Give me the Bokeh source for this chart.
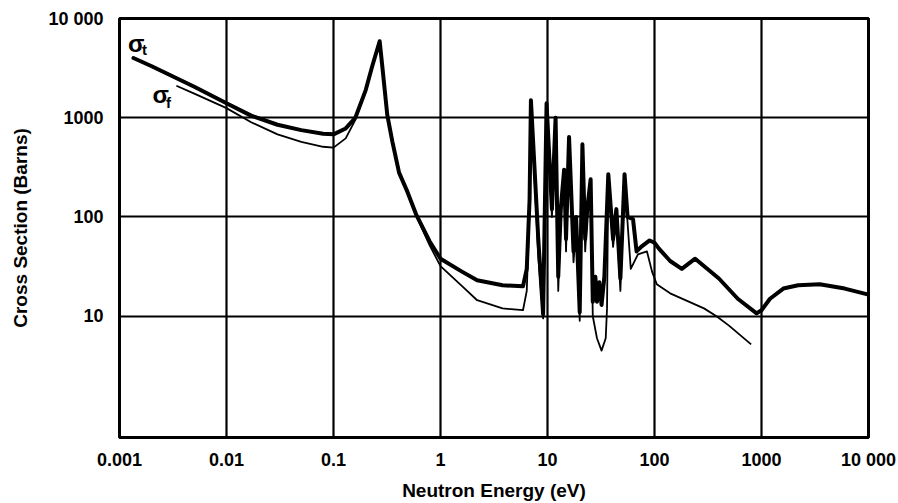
from bokeh.plotting import figure
from bokeh.models import FixedTicker, CustomJSTickFormatter, Label, Range1d
from bokeh.embed import file_html
from bokeh.resources import INLINE

# ---- data ----
x_ticks = [0.001, 0.01, 0.1, 1, 10, 100, 1000, 10000]
x_tick_labels = ["0.001", "0.01", "0.1", "1", "10", "100", "1000", "10 000"]
y_ticks = [10, 100, 1000, 10000]
y_tick_labels = ["10", "100", "1000", "10 000"]

# total cross section sigma_t
sigma_t_energy = [0.00135, 0.002, 0.005, 0.01, 0.017, 0.03, 0.05, 0.08, 0.1, 0.13, 0.16,
                  0.2, 0.23, 0.27, 0.285, 0.318, 0.355, 0.41, 0.49, 0.59, 0.79, 1.0,
                  1.6, 2.2, 3.8, 5.9, 6.4, 6.8, 7.0, 8.2, 9.1, 9.8, 11.0, 11.9, 12.6,
                  13.3, 14.3, 14.9, 15.9, 17.5, 18.5, 20.0, 21.2, 22.5, 23.5, 25.3,
                  26.5, 28.0, 29.0, 30.5, 32.0, 34.0, 37.0, 41.0, 44.0, 48.0, 52.5,
                  56.0, 63.0, 68.0, 75.0, 90.0, 100.0, 110.0, 140.0, 180.0, 240.0,
                  400.0, 600.0, 900.0, 1000.0, 1200.0, 1600.0, 2200.0, 3500.0,
                  6000.0, 10000.0]
sigma_t = [4000, 3300, 2050, 1400, 1050, 850, 750, 690, 680, 780, 1000,
           1900, 3300, 5900, 3400, 1070, 575, 280, 180, 107, 57, 38,
           28, 23, 20.5, 20, 30, 150, 1500, 60, 10.5, 1400, 120, 1000, 25,
           120, 300, 60, 640, 45, 100, 11, 540, 60, 120, 240,
           14, 25, 14, 22, 13, 25, 270, 60, 120, 24, 270,
           100, 95, 45, 50, 58, 55, 48, 36, 30, 38,
           24, 15, 10.7, 11.5, 15, 19, 20.5, 21,
           19, 16.5]

# fission cross section sigma_f
sigma_f_energy = [0.0034, 0.005, 0.01, 0.017, 0.03, 0.05, 0.08, 0.1, 0.13, 0.16,
                  0.2, 0.23, 0.27, 0.285, 0.318, 0.355, 0.41, 0.49, 0.59, 0.79, 1.0,
                  1.6, 2.2, 3.8, 5.9, 6.4, 6.8, 7.0, 8.2, 9.1, 9.8, 11.0, 11.9, 12.6,
                  13.3, 14.3, 14.9, 15.9, 17.5, 18.5, 20.0, 21.2, 22.5, 23.5, 25.3,
                  26.5, 29.0, 32.0, 35.0, 36.0, 37.0, 41.0, 44.0, 48.0, 52.5,
                  60.0, 70.0, 85.0, 95.0, 105.0, 140.0, 290.0, 380.0, 500.0, 800.0]
sigma_f = [2100, 1750, 1250, 900, 680, 570, 510, 500, 620, 950,
           1850, 3200, 5800, 3350, 1050, 565, 275, 177, 104, 52, 32,
           20, 14.5, 12, 11.5, 18, 120, 1400, 40, 9.5, 1300, 100, 900, 18,
           100, 260, 45, 580, 35, 80, 9, 480, 45, 100, 210,
           10, 6, 4.5, 6, 12, 240, 50, 100, 18, 240,
           30, 42, 45, 28, 21, 17, 12, 10, 8, 5.2]

FONT = "Liberation Sans"

p = figure(width=898, height=503, x_axis_type="log", y_axis_type="log",
           x_range=Range1d(0.001, 10000), y_range=Range1d(0.6, 10000),
           output_backend="svg", toolbar_location=None,
           min_border_left=119, min_border_right=30, min_border_top=18,
           min_border_bottom=63,
           background_fill_color="white", border_fill_color="white")

p.outline_line_color = "black"
p.outline_line_width = 3

fmt_code = """
for (let i = 0; i < tvals.length; i++) {
  if (Math.abs(Math.log10(tick) - Math.log10(tvals[i])) < 1e-6) { return tlabels[i]; }
}
return "";
"""

p.xaxis.ticker = FixedTicker(ticks=x_ticks, minor_ticks=[])
p.yaxis.ticker = FixedTicker(ticks=y_ticks, minor_ticks=[])
p.xaxis.formatter = CustomJSTickFormatter(args=dict(tvals=x_ticks, tlabels=x_tick_labels), code=fmt_code)
p.yaxis.formatter = CustomJSTickFormatter(args=dict(tvals=y_ticks, tlabels=y_tick_labels), code=fmt_code)

for ax in (p.xaxis, p.yaxis):
    ax.axis_line_color = None
    ax.major_tick_line_color = None
    ax.minor_tick_line_color = None
    ax.major_tick_out = 0
    ax.major_tick_in = 0
    ax.major_label_text_font = FONT
    ax.major_label_text_font_style = "bold"
    ax.major_label_text_font_size = "18px"
    ax.major_label_text_color = "black"
    ax.axis_label_text_font = FONT
    ax.axis_label_text_font_style = "bold"
    ax.axis_label_text_font_size = "19px"
    ax.axis_label_text_color = "black"

p.xaxis.axis_label = "Neutron Energy (eV)"
p.yaxis.axis_label = "Cross Section (Barns)"
p.xaxis.major_label_standoff = 12
p.xaxis.axis_label_standoff = 7
p.yaxis.major_label_standoff = 16
p.yaxis.axis_label_standoff = 14
p.yaxis.major_label_orientation = "horizontal"

p.grid.grid_line_color = "black"
p.grid.grid_line_width = 2.2
p.grid.grid_line_alpha = 1.0

p.line(sigma_f_energy, sigma_f, line_color="black", line_width=1.8, line_join="round")
p.line(sigma_t_energy, sigma_t, line_color="black", line_width=4, line_join="round",
       line_cap="round")

# curve labels
p.add_layout(Label(x=0.0012, y=5600, text="σ", text_font=FONT, text_font_style="bold",
                   text_font_size="24px", text_color="black", text_baseline="alphabetic"))
p.add_layout(Label(x=0.00162, y=4900, text="t", text_font=FONT, text_font_style="bold",
                   text_font_size="15px", text_color="black", text_baseline="alphabetic"))
p.add_layout(Label(x=0.00203, y=1700, text="σ", text_font=FONT, text_font_style="bold",
                   text_font_size="24px", text_color="black", text_baseline="alphabetic"))
p.add_layout(Label(x=0.00272, y=1430, text="f", text_font=FONT, text_font_style="bold",
                   text_font_size="15px", text_color="black", text_baseline="alphabetic"))

open("out.html", "w").write(file_html(p, INLINE))
